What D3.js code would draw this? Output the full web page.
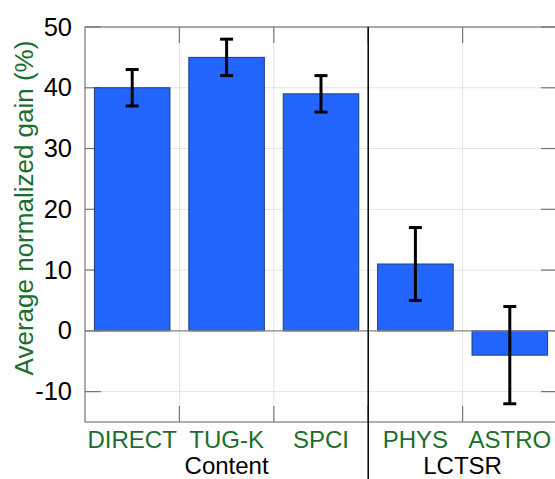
<!DOCTYPE html>
<html>
<head>
<meta charset="utf-8">
<script src="https://cdn.jsdelivr.net/npm/d3@7"></script>
<style>
  html, body { margin: 0; padding: 0; background: #fff; }
  svg { display: block; font-family: "Liberation Sans", Arial, sans-serif; }
</style>
</head>
<body>
<div id="chart"></div>
<script>
const categories = ['DIRECT', 'TUG-K', 'SPCI', 'PHYS', 'ASTRO'];
const gains = [40, 45, 39, 11, -4];
const errors = [3, 3, 3, 6, 8];
const groups = [
  { label: 'Content', from: 'DIRECT', to: 'SPCI' },
  { label: 'LCTSR', from: 'PHYS', to: 'ASTRO' }
];
const yTicks = [-10, 0, 10, 20, 30, 40, 50];

const W = 555, H = 479, m = { t: 27, r: -2, b: 57, l: 85 };
const green = '#1c6e2c';

const svg = d3.select('#chart').append('svg').attr('width', W).attr('height', H);

const x = d3.scaleBand().domain(categories).range([m.l, W - m.r])
  .paddingInner(0.2).paddingOuter(0.1);
const y = d3.scaleLinear().domain([-15, 50]).range([H - m.b, m.t]);
const step = x.step();
const edge = c => x(c) - step * 0.1;          // left boundary of a category cell
const boundaries = categories.slice(1).map(edge);
const sepX = edge(groups[1].from);

// grid
svg.append('g').selectAll('line').data(yTicks).join('line')
  .attr('x1', m.l).attr('x2', W - m.r).attr('y1', d => y(d)).attr('y2', d => y(d))
  .attr('stroke', '#e4e4e4').attr('stroke-width', 1);
svg.append('g').selectAll('line').data(boundaries.filter(b => b !== sepX)).join('line')
  .attr('x1', d => d).attr('x2', d => d).attr('y1', m.t).attr('y2', H - m.b)
  .attr('stroke', '#e4e4e4').attr('stroke-width', 1);

// tick marks
const tickG = svg.append('g').attr('stroke', '#777').attr('stroke-width', 1.2);
tickG.selectAll('line.l').data(yTicks).join('line').attr('class', 'l')
  .attr('x1', m.l).attr('x2', m.l + 16).attr('y1', d => y(d)).attr('y2', d => y(d));
tickG.selectAll('line.r').data(yTicks).join('line').attr('class', 'r')
  .attr('x1', W - m.r - 16).attr('x2', W - m.r).attr('y1', d => y(d)).attr('y2', d => y(d));
tickG.selectAll('line.t').data(boundaries).join('line').attr('class', 't')
  .attr('x1', d => d).attr('x2', d => d).attr('y1', m.t).attr('y2', m.t + 16);
tickG.selectAll('line.b').data(boundaries).join('line').attr('class', 'b')
  .attr('x1', d => d).attr('x2', d => d).attr('y1', H - m.b - 16).attr('y2', H - m.b);

// bars
svg.append('g').selectAll('rect').data(categories).join('rect')
  .attr('x', c => x(c)).attr('width', x.bandwidth())
  .attr('y', (c, i) => y(Math.max(0, gains[i])))
  .attr('height', (c, i) => Math.abs(y(gains[i]) - y(0)))
  .attr('fill', '#2266ff').attr('stroke', '#1f3c78').attr('stroke-width', 1);

// zero line
svg.append('line').attr('x1', m.l).attr('x2', W - m.r).attr('y1', y(0)).attr('y2', y(0))
  .attr('stroke', '#888').attr('stroke-width', 1.2);

// error bars
const eb = svg.append('g').attr('stroke', '#000').attr('stroke-width', 3);
categories.forEach((c, i) => {
  const cx = x(c) + x.bandwidth() / 2, lo = y(gains[i] - errors[i]), hi = y(gains[i] + errors[i]);
  eb.append('line').attr('x1', cx).attr('x2', cx).attr('y1', lo).attr('y2', hi);
  eb.append('line').attr('x1', cx - 6.5).attr('x2', cx + 6.5).attr('y1', lo).attr('y2', lo);
  eb.append('line').attr('x1', cx - 6.5).attr('x2', cx + 6.5).attr('y1', hi).attr('y2', hi);
});

// axes frame
svg.append('rect').attr('x', m.l).attr('y', m.t).attr('width', W - m.r - m.l).attr('height', H - m.b - m.t)
  .attr('fill', 'none').attr('stroke', '#777').attr('stroke-width', 1.2);

// group separator
svg.append('line').attr('x1', sepX).attr('x2', sepX).attr('y1', m.t).attr('y2', H)
  .attr('stroke', '#000').attr('stroke-width', 1.5);

// y tick labels
svg.append('g').selectAll('text').data(yTicks).join('text')
  .attr('x', 72).attr('y', d => y(d) + 8.5).attr('text-anchor', 'end')
  .attr('font-size', 25.5).attr('fill', '#000').text(d => d);

// category labels
svg.append('g').selectAll('text').data(categories).join('text')
  .attr('x', c => x(c) + x.bandwidth() / 2).attr('y', H - m.b + 26).attr('text-anchor', 'middle')
  .attr('font-size', 24).attr('fill', green).text(c => c);

// group labels
svg.append('g').selectAll('text').data(groups).join('text')
  .attr('x', g => (edge(g.from) + x(g.to) + step * 0.9) / 2).attr('y', H - 5)
  .attr('text-anchor', 'middle').attr('font-size', 24).attr('fill', '#000').text(g => g.label);

// y label
svg.append('text').attr('transform', `translate(33,${(36 + 380) / 2}) rotate(-90)`)
  .attr('text-anchor', 'middle').attr('font-size', 26).attr('fill', green)
  .text('Average normalized gain (%)');
</script>
</body>
</html>
